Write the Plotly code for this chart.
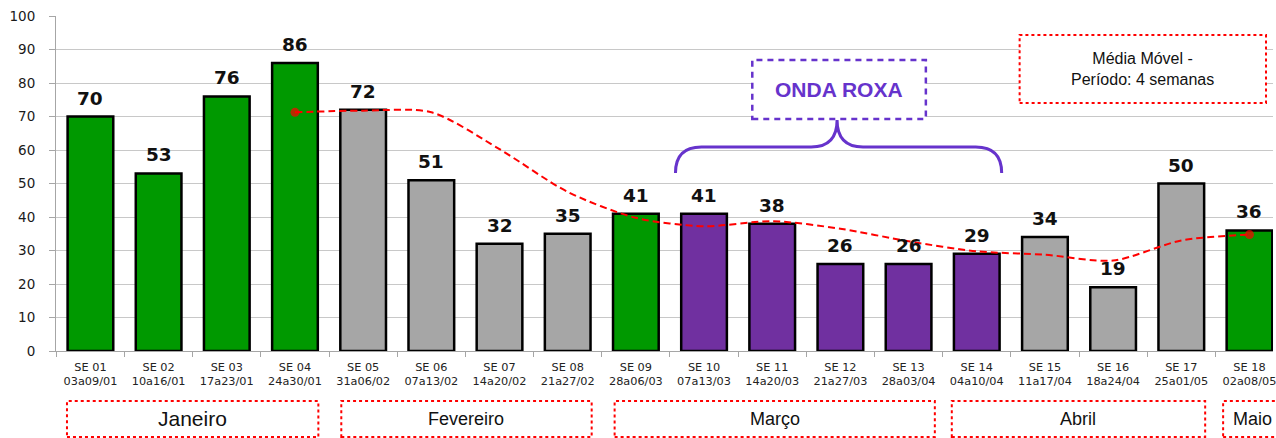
import plotly.graph_objects as go

# ---------------- data ----------------
weeks = ["SE 01", "SE 02", "SE 03", "SE 04", "SE 05", "SE 06", "SE 07", "SE 08", "SE 09",
         "SE 10", "SE 11", "SE 12", "SE 13", "SE 14", "SE 15", "SE 16", "SE 17", "SE 18"]
periods = ["03a09/01", "10a16/01", "17a23/01", "24a30/01", "31a06/02", "07a13/02", "14a20/02",
           "21a27/02", "28a06/03", "07a13/03", "14a20/03", "21a27/03", "28a03/04", "04a10/04",
           "11a17/04", "18a24/04", "25a01/05", "02a08/05"]
cases = [70, 53, 76, 86, 72, 51, 32, 35, 41, 41, 38, 26, 26, 29, 34, 19, 50, 36]
phase = ["verde", "verde", "verde", "verde", "cinza", "cinza", "cinza", "cinza", "verde",
         "roxa", "roxa", "roxa", "roxa", "roxa", "cinza", "cinza", "cinza", "verde"]
# moving average (4 weeks), from SE 04 to SE 18
ma_weeks = weeks[3:]
ma_values = [71.25, 71.75, 71.25, 60.25, 47.5, 39.75, 37.25, 38.75, 36.5, 32.75,
             29.75, 28.75, 27.0, 33.0, 34.75]
months = ["Janeiro", "Fevereiro", "Março", "Abril", "Maio"]

# ---------------- styles ----------------
phase_colors = {"verde": "#009900", "cinza": "#A6A6A6", "roxa": "#7030A0"}
labels = [f"{w}<br>{p}" for w, p in zip(weeks, periods)]

W, H = 1276, 438
ML, MT, MB = 56, 16, 87
PW, PH = W - ML, H - MT - MB


def px_x(p):
    return (p - ML) / PW


def px_y(p):
    return (H - MB - p) / PH


fig = go.Figure()
fig.add_trace(go.Bar(
    x=labels, y=cases,
    marker=dict(color=[phase_colors[p] for p in phase],
                line=dict(color="#000000", width=2.5)),
    width=0.67, showlegend=False, hoverinfo="x+y"))

ma_x = [labels[weeks.index(w)] for w in ma_weeks]
fig.add_trace(go.Scatter(
    x=ma_x, y=ma_values, mode="lines+markers",
    line=dict(color="#FF0000", width=2, dash="7px,4px", shape="spline", smoothing=0.8),
    marker=dict(color="#FF0000", line=dict(width=0),
                size=[9 if i in (0, len(ma_values) - 1) else 0 for i in range(len(ma_values))]),
    showlegend=False))

annotations = []
for lab, v in zip(labels, cases):
    annotations.append(dict(x=lab, y=v, xref="x", yref="y", text=f"<b>{v}</b>",
                            showarrow=False, yanchor="bottom", yshift=6,
                            font=dict(family="DejaVu Sans", size=18.5, color="#111111")))

shapes = []
# month boxes
month_boxes = [(67, 319), (342, 593), (616, 937), (954, 1208), (1226, 1282)]
month_sizes = [21, 18, 18, 18, 18]
for name, (x0, x1), fs in zip(months, month_boxes, month_sizes):
    shapes.append(dict(type="rect", xref="paper", yref="paper",
                       x0=px_x(x0), x1=px_x(x1), y0=px_y(437), y1=px_y(401),
                       line=dict(color="#FF0000", width=2, dash="dot")))
    if name == "Maio":
        annotations.append(dict(xref="paper", yref="paper", x=px_x(1234), y=px_y(419),
                                xanchor="left", yanchor="middle", text=name, showarrow=False,
                                font=dict(family="Liberation Sans", size=fs, color="#111111")))
    else:
        annotations.append(dict(xref="paper", yref="paper", x=px_x((x0 + x1) / 2), y=px_y(419),
                                xanchor="center", yanchor="middle", text=name, showarrow=False,
                                font=dict(family="Liberation Sans", size=fs, color="#111111")))

# moving-average legend box
shapes.append(dict(type="rect", xref="paper", yref="paper",
                   x0=px_x(1022), x1=px_x(1269), y0=px_y(103), y1=px_y(35),
                   line=dict(color="#FF0000", width=2, dash="dot"), fillcolor="white", layer="above"))
annotations.append(dict(xref="paper", yref="paper", x=px_x(1145), y=px_y(69),
                        text="Média Móvel -<br>Período: 4 semanas", showarrow=False,
                        xanchor="center", yanchor="middle",
                        font=dict(family="Liberation Sans", size=16, color="#111111")))

# ONDA ROXA box
purple = "#6633CC"
shapes.append(dict(type="rect", xref="paper", yref="paper",
                   x0=px_x(754), x1=px_x(928), y0=px_y(119), y1=px_y(60),
                   line=dict(color=purple, width=2.5, dash="6px,5px"), fillcolor="white", layer="above"))
annotations.append(dict(xref="paper", yref="paper", x=px_x(841), y=px_y(90),
                        text="<b>ONDA ROXA</b>", showarrow=False,
                        xanchor="center", yanchor="middle",
                        font=dict(family="Liberation Sans", size=21, color=purple)))

# brace
pts = [("M", 677, 173), ("Q", 677, 147, 703, 147), ("L", 813, 147), ("Q", 839, 147, 839, 120),
       ("Q", 839, 147, 865, 147), ("L", 978, 147), ("Q", 1004, 147, 1004, 173)]
path = ""
for seg in pts:
    cmd = seg[0]
    coords = seg[1:]
    parts = []
    for i in range(0, len(coords), 2):
        parts.append(f"{px_x(coords[i]):.5f},{px_y(coords[i + 1]):.5f}")
    path += cmd + " " + " ".join(parts) + " "
shapes.append(dict(type="path", xref="paper", yref="paper", path=path.strip(),
                   line=dict(color=purple, width=3)))

fig.update_layout(
    width=W, height=H,
    margin=dict(l=ML, r=0, t=MT, b=MB),
    paper_bgcolor="white", plot_bgcolor="white",
    bargap=0.33,
    annotations=annotations, shapes=shapes,
    xaxis=dict(range=[-0.505, 17.345], showgrid=False, showline=True, linecolor="#A6A6A6",
               linewidth=1, ticks="outside", tickson="boundaries", ticklen=5,
               tickcolor="#A6A6A6", tickfont=dict(family="DejaVu Sans", size=11.3, color="#222222"),
               ticklabelstandoff=5),
    yaxis=dict(range=[0, 100], dtick=10, showgrid=True, gridcolor="#C8C8C8", gridwidth=1,
               showline=True, linecolor="#A6A6A6", linewidth=1, ticks="outside", ticklen=6,
               tickcolor="#A6A6A6", zeroline=False,
               tickfont=dict(family="DejaVu Sans", size=13.5, color="#1a1a1a"),
               ticklabelstandoff=11),
)

fig.write_html("out.html", config={"displayModeBar": False},
               post_script="document.body.style.margin='0px';document.body.style.overflow='hidden';")
